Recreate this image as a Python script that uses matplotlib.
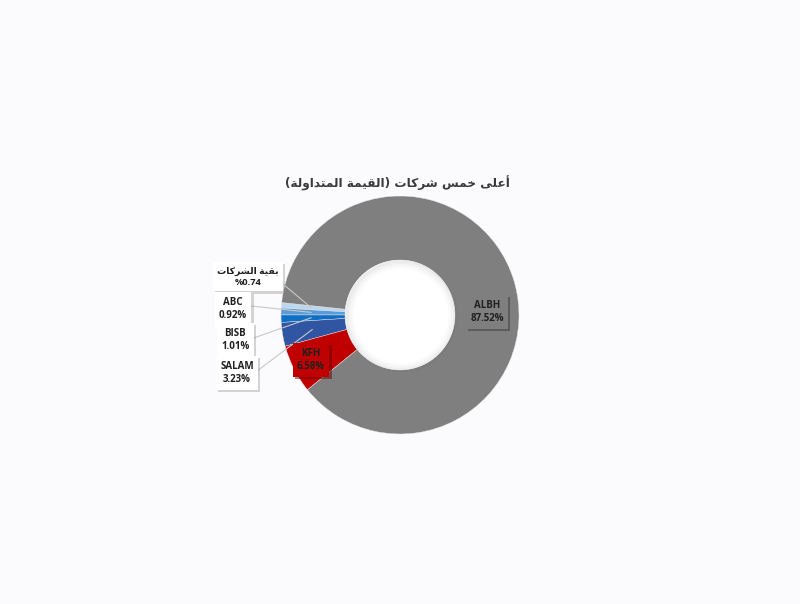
import matplotlib
matplotlib.use('Agg')
import matplotlib.pyplot as plt
import numpy as np
from matplotlib import patheffects as pe

# ---------------- data ----------------
companies = ['بقية الشركات', 'ABC', 'BISB', 'SALAM', 'KFH', 'ALBH']
shares = [0.74, 0.92, 1.01, 3.23, 6.58, 87.52]
share_labels = ['%0.74', '0.92%', '1.01%', '3.23%', '6.58%', '87.52%']
colors = ['#bdd7ee', '#5b9bd5', '#0f6fc6', '#2f55a3', '#c00000', '#7f7f7f']
title_text = 'أعلى خمس شركات (القيمة المتداولة)'

# ------------- minimal Arabic shaping (presentation forms, visual order) -------------
FORMS = {
    'ا': ('\uFE8D', '\uFE8E', None, None),
    'أ': ('\uFE83', '\uFE84', None, None),
    'ب': ('\uFE8F', '\uFE90', '\uFE91', '\uFE92'),
    'ة': ('\uFE93', '\uFE94', None, None),
    'ت': ('\uFE95', '\uFE96', '\uFE97', '\uFE98'),
    'خ': ('\uFEA5', '\uFEA6', '\uFEA7', '\uFEA8'),
    'د': ('\uFEA9', '\uFEAA', None, None),
    'ر': ('\uFEAD', '\uFEAE', None, None),
    'س': ('\uFEB1', '\uFEB2', '\uFEB3', '\uFEB4'),
    'ش': ('\uFEB5', '\uFEB6', '\uFEB7', '\uFEB8'),
    'ع': ('\uFEC9', '\uFECA', '\uFECB', '\uFECC'),
    'ق': ('\uFED5', '\uFED6', '\uFED7', '\uFED8'),
    'ك': ('\uFED9', '\uFEDA', '\uFEDB', '\uFEDC'),
    'ل': ('\uFEDD', '\uFEDE', '\uFEDF', '\uFEE0'),
    'م': ('\uFEE1', '\uFEE2', '\uFEE3', '\uFEE4'),
    'ه': ('\uFEE9', '\uFEEA', '\uFEEB', '\uFEEC'),
    'و': ('\uFEED', '\uFEEE', None, None),
    'ى': ('\uFEEF', '\uFEF0', None, None),
    'ي': ('\uFEF1', '\uFEF2', '\uFEF3', '\uFEF4'),
}


def shape(s):
    out = []
    n = len(s)
    for i, c in enumerate(s):
        if c not in FORMS:
            out.append(c)
            continue
        f = FORMS[c]
        prev = s[i - 1] if i > 0 else None
        nxt = s[i + 1] if i + 1 < n else None
        jp = prev in FORMS and FORMS[prev][2] is not None
        jn = nxt in FORMS and f[2] is not None
        if jp and jn:
            out.append(f[3])
        elif jp:
            out.append(f[1])
        elif jn:
            out.append(f[2])
        else:
            out.append(f[0])
    return ''.join(out)


def visual(s):
    if not any(c in FORMS for c in s):
        return s
    rev = shape(s)[::-1]
    mirror = {'(': ')', ')': '('}
    return ''.join(mirror.get(c, c) for c in rev)


# ---------------- figure ----------------
W, H = 800, 604
fig = plt.figure(figsize=(8, 6.04), dpi=100, facecolor='#fbfbfd')
ax = fig.add_axes([0, 0, 1, 1])
ax.set_facecolor('#fbfbfd')

def Y(y):
    return H - y

cx, cy, R, ring = 400, Y(315), 119, 64
wedges, _ = ax.pie(shares, colors=colors, startangle=174, counterclock=True,
                   center=(cx, cy), radius=R,
                   wedgeprops=dict(width=ring, linewidth=0.3, edgecolor='#e8e8e8'))
ax.set_xlim(0, W)
ax.set_ylim(0, H)
ax.set_aspect('equal')
ax.axis('off')

# white hole with soft inner shadow
inner = R - ring
ax.add_patch(plt.Circle((cx, cy), inner, fc='white', ec='none', zorder=2))
for k, a in enumerate([0.10, 0.07, 0.05, 0.03, 0.02]):
    ax.add_patch(plt.Circle((cx + 1, cy - 1), inner - k * 1.6, fill=False,
                            lw=1.8, ec=(0.4, 0.4, 0.45, a), zorder=3))

fam = ['Open Sans', 'DejaVu Sans']
ax.text(397, Y(183), visual(title_text), ha='center', va='center',
        fontsize=8.7, fontweight='bold', color='#3a3a3a', family=['DejaVu Sans'])

# label layout (image pixel coords): text centre, leader start, font size
layout = {
    'بقية الشركات': (248, 277, (277, 279), 6.7),
    'ABC': (233, 309, (251, 306), 7),
    'BISB': (235, 340, (251, 339), 7),
    'SALAM': (237, 373, (257, 371), 7),
    'KFH': (311, 360, None, 7),
    'ALBH': (487, 312, None, 7),
}

for w, name, lab, col in zip(wedges, companies, share_labels, colors):
    tx, ty, start, fs = layout[name]
    mid = np.deg2rad((w.theta1 + w.theta2) / 2)
    if name in ('KFH', 'ALBH'):
        fc = col
        shadow = '#3a3a3a' if name == 'ALBH' else '#6a0000'
        alpha = 0.5
    else:
        fc = 'white'
        shadow = '#8a8a8a'
        alpha = 0.35
    t = ax.text(tx, Y(ty), visual(name) + '\n' + lab, ha='center', va='center',
                fontsize=fs, fontweight='bold', color='#202020', family=fam,
                linespacing=1.35, zorder=6,
                bbox=dict(boxstyle='square,pad=0.45', fc=fc, ec='none'))
    t.get_bbox_patch().set_path_effects([
        pe.withSimplePatchShadow(offset=(1.5, -1.5), shadow_rgbFace=shadow, alpha=alpha),
        pe.Normal()])
    if start is not None:
        rr = R - 30
        ex, ey = cx + rr * np.cos(mid), cy + rr * np.sin(mid)
        ax.plot([start[0], ex], [Y(start[1]), ey], color='#c8c8c8', lw=0.8, zorder=4)

fig.savefig('out.png', dpi=100, facecolor=fig.get_facecolor())
